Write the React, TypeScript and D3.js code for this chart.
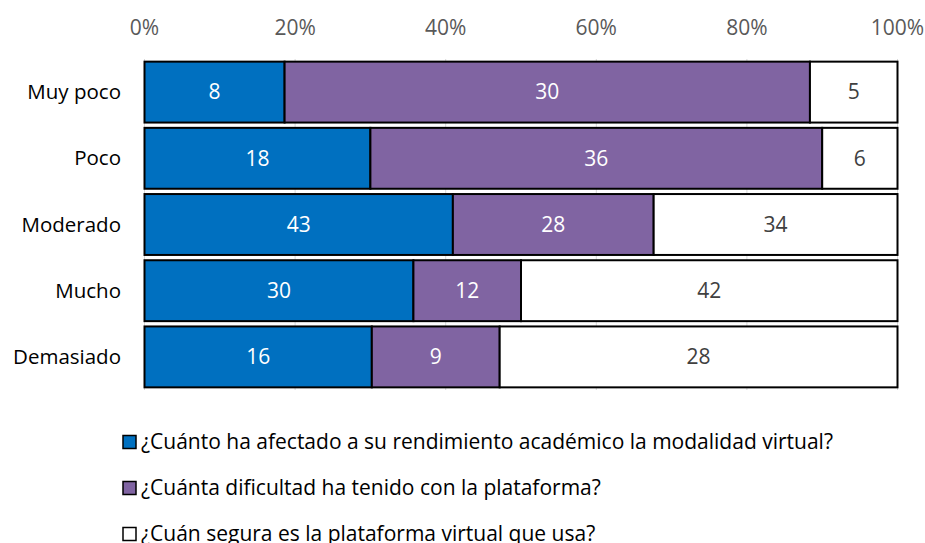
import React from "react";
import * as d3 from "d3";

const categories = ["Muy poco", "Poco", "Moderado", "Mucho", "Demasiado"];
const seriesNames = [
  "¿Cuánto ha afectado a su rendimiento académico la modalidad virtual?",
  "¿Cuánta dificultad ha tenido con la plataforma?",
  "¿Cuán segura es la plataforma virtual que usa?",
];
const rendimiento = [8, 18, 43, 30, 16];
const dificultad = [30, 36, 28, 12, 9];
const segura = [5, 6, 34, 42, 28];
const tickValues = [0, 0.2, 0.4, 0.6, 0.8, 1];
const colors = ["#0070C0", "#8064A2", "#FFFFFF"];
const labelColors = ["#FFFFFF", "#FFFFFF", "#404040"];

const W = 925;
const H = 543;
const FONT = "'Open Sans', 'DejaVu Sans', sans-serif";

export default function App() {
  const series = [rendimiento, dificultad, segura];
  const x = d3.scaleLinear().domain([0, 1]).range([144.5, 897.5]);
  const y = d3
    .scaleBand<string>()
    .domain(categories)
    .range([59, 390])
    .paddingInner(0.08)
    .paddingOuter(0.04);

  const rows = categories.map((c, i) => {
    const vals = series.map((s) => s[i]);
    const total = d3.sum(vals);
    let acc = 0;
    return vals.map((v, j) => {
      const x0 = acc / total;
      acc += v;
      return { c, v, j, x0, x1: acc / total };
    });
  });

  const legendY = d3.scalePoint<number>().domain([0, 1, 2]).range([442, 534]);

  return (
    <svg
      width={W}
      height={H}
      style={{ position: "absolute", left: 0, top: 0, background: "#fff" }}
      fontFamily={FONT}
    >
      {tickValues.map((t) => (
        <g key={t}>
          <line
            x1={x(t)}
            x2={x(t)}
            y1={59}
            y2={390}
            stroke="#D9D9D9"
            strokeWidth={1}
          />
          <text
            x={x(t)}
            y={35}
            textAnchor="middle"
            fontSize={21}
            fill="#595959"
          >
            {d3.format(".0%")(t)}
          </text>
        </g>
      ))}
      {rows.map((segs, i) => (
        <g key={categories[i]}>
          <text
            x={121}
            y={(y(categories[i]) ?? 0) + y.bandwidth() / 2}
            dy="0.35em"
            textAnchor="end"
            fontSize={20.5}
            fill="#000"
          >
            {categories[i]}
          </text>
          {segs.map((s) => (
            <g key={s.j}>
              <rect
                x={x(s.x0)}
                y={y(s.c)}
                width={x(s.x1) - x(s.x0)}
                height={y.bandwidth()}
                fill={colors[s.j]}
                stroke="#000"
                strokeWidth={2}
              />
              <text
                x={(x(s.x0) + x(s.x1)) / 2}
                y={(y(s.c) ?? 0) + y.bandwidth() / 2}
                dy="0.35em"
                textAnchor="middle"
                fontSize={21}
                fill={labelColors[s.j]}
              >
                {s.v}
              </text>
            </g>
          ))}
        </g>
      ))}
      {seriesNames.map((n, j) => (
        <g key={n}>
          <rect
            x={123}
            y={legendY(j)! - 6.5}
            width={13}
            height={13}
            fill={colors[j]}
            stroke="#000"
            strokeWidth={1.5}
          />
          <text
            x={141}
            y={legendY(j)}
            dy="0.35em"
            fontSize={21}
            fill="#000"
          >
            {n}
          </text>
        </g>
      ))}
    </svg>
  );
}
